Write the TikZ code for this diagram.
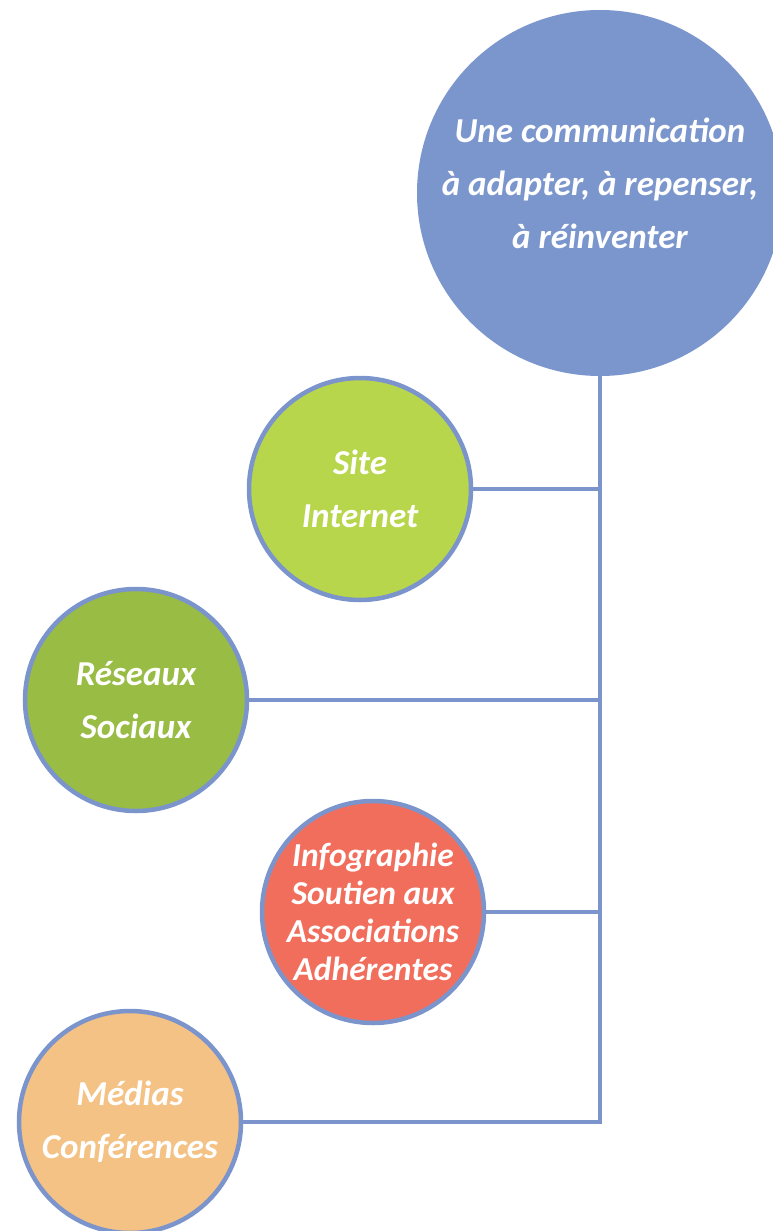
\documentclass[tikz,border=0pt]{standalone}
\usepackage{fontspec}
\setmainfont{Carlito}
\definecolor{lineblue}{HTML}{7B95CC}
\definecolor{topblue}{HTML}{7B96CC}
\definecolor{lime}{HTML}{B7D64B}
\definecolor{grass}{HTML}{98BC44}
\definecolor{coral}{HTML}{F26E5C}
\definecolor{peach}{HTML}{F4C284}
\tikzset{
  bubble/.style={circle, draw=lineblue, line width=4.5pt, minimum size=222pt, inner sep=0pt,
    align=center, text=white, font=\bfseries\itshape\fontsize{35}{53}\selectfont},
  link/.style={draw=lineblue, line width=4.5pt}
}
\begin{document}
\begin{tikzpicture}[x=1pt,y=-1pt]
\useasboundingbox (0,0) rectangle (772,1231);
\node[circle, fill=topblue, minimum size=366pt, inner sep=0pt] (top) at (600,193) {};
\node[align=center, text=white, inner sep=0pt,
  font=\bfseries\itshape\fontsize{35}{53}\selectfont] (toplabel) at (600,183)
  {Une communication\\à adapter, à repenser,\\à réinventer};
\node[bubble, fill=lime] (site) at (360,489) {Site\\Internet};
\node[bubble, fill=grass] (res) at (136,700) {Réseaux\\Sociaux};
\node[bubble, fill=coral, font=\bfseries\itshape\fontsize{33.5}{38}\selectfont] (info) at (373,912)
  {Infographie\\Soutien aux\\Associations\\Adhérentes};
\node[bubble, fill=peach] (med) at (130,1122) {Médias\\Conférences};
\coordinate (j1) at (600,489);
\coordinate (j2) at (600,700);
\coordinate (j3) at (600,912);
\coordinate (j4) at (600,1122);
\draw[link] (top.south) -- (j4) -- (med.east);
\draw[link] (site.east) -- (j1);
\draw[link] (res.east) -- (j2);
\draw[link] (info.east) -- (j3);
\end{tikzpicture}
\end{document}
